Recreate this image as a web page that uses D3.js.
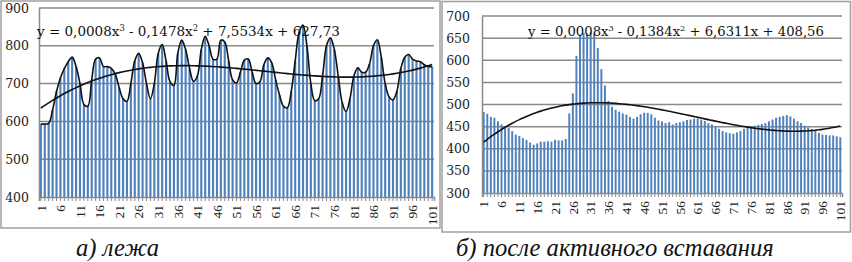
<!DOCTYPE html>
<html><head><meta charset="utf-8">
<script src="https://cdn.jsdelivr.net/npm/d3@7"></script>
<style>
body{margin:0;background:#fff;}
svg{display:block;}
</style></head>
<body>
<svg id="c" width="852" height="262"></svg>
<script>
// ---------- data ----------
const categories = d3.range(1, 102);
const tickLabels = ["1","6","11","16","21","26","31","36","41","46","51","56","61","66","71","76","81","86","91","96","101"];

const leftValues = [593,593,595,630,679,715,740,758,770,745,700,645,640,710,765,768,745,745,740,725,
  690,660,653,700,760,780,755,700,660,700,780,803,760,705,695,780,815,790,740,706,
  720,790,825,800,765,765,815,810,760,710,702,730,762,765,730,700,705,750,768,755,
  710,670,640,636,680,760,835,855,800,700,655,660,720,800,821,790,720,650,626,660,
  720,742,730,730,752,800,816,770,700,665,657,680,740,770,777,765,760,758,750,745,745];

const rightValues = [483,479,472,470,462,455,449,447,440,432,429,424,420,414,409,412,416,416,417,416,
  420,419,419,422,480,525,610,658,662,660,663,660,628,580,543,508,495,488,484,480,
  477,472,468,472,478,481,481,478,470,464,462,458,460,455,458,460,462,465,466,468,
  468,466,463,458,455,450,445,440,437,435,434,437,440,445,448,450,452,454,456,458,
  462,466,470,472,474,476,473,468,462,458,452,448,445,440,436,432,431,430,430,428,426];

const leftYTicks = [400,500,600,700,800,900];
const rightYTicks = [300,350,400,450,500,550,600,650,700];

// trendline coefficients (c0, c1, c2, c3) as drawn
const leftTrend = [627.73, 7.5534, -0.1478, 0.000842];
const rightTrend = [408.56, 6.6311, -0.1384, 0.000762];

const leftEq = ["y = 0,0008x","3"," - 0,1478x","2"," + 7,5534x + 627,73"];
const rightEq = ["y = 0,0008x","3"," - 0,1384x","2"," + 6,6311x + 408,56"];
const captions = ["а) лежа", "б) после активного вставания"];

// ---------- drawing ----------
const svg = d3.select("#c");
const GRID = "#8a8a8a", FRAME = "#a0a0a0", BAR = "#4F81BD";
const SERIF = "Liberation Serif";
const WIDE = "DejaVu Serif";

// frames
svg.append("rect").attr("x",1).attr("y",1).attr("width",439).attr("height",227)
  .attr("fill","none").attr("stroke",FRAME).attr("stroke-width",1.5);
svg.append("rect").attr("x",442).attr("y",1.5).attr("width",408.5).attr("height",230.5)
  .attr("fill","none").attr("stroke",FRAME).attr("stroke-width",1.5);

function panel(cfg){
  const g = svg.append("g");
  const x = d3.scaleBand().domain(categories).range(cfg.xr).paddingInner(0.45).paddingOuter(0.2);
  const y = d3.scaleLinear().domain(cfg.yd).range(cfg.yr);

  // gridlines
  g.append("g").selectAll("line").data(cfg.yTicks.slice(1)).join("line")
    .attr("x1",cfg.xr[0]).attr("x2",cfg.xr[1])
    .attr("y1",d=>y(d)).attr("y2",d=>y(d))
    .attr("stroke",GRID).attr("stroke-width",1.5);

  // bars
  g.append("g").selectAll("rect").data(cfg.values).join("rect")
    .attr("x",(d,i)=>x(categories[i]))
    .attr("width",x.bandwidth())
    .attr("y",d=>y(d))
    .attr("height",d=>y(cfg.yd[0])-y(d))
    .attr("fill",BAR);

  // y axis
  const ya = g.append("g").attr("transform",`translate(${cfg.xr[0]},0)`)
    .call(d3.axisLeft(y).tickValues(cfg.yTicks).tickSize(0).tickPadding(cfg.yPad));
  ya.select(".domain").attr("stroke",GRID).attr("stroke-width",1.5);
  ya.selectAll("text").attr("font-family",WIDE).attr("font-size",12.5).attr("fill","#222");

  // x axis
  const xa = g.append("g").attr("transform",`translate(0,${y(cfg.yd[0])})`)
    .call(d3.axisBottom(x).tickSize(4).tickFormat(d=>tickLabels.includes(String(d))?String(d):""));
  xa.select(".domain").attr("stroke",GRID).attr("stroke-width",1.5);
  xa.selectAll(".tick line").attr("stroke",GRID);
  xa.selectAll("text").attr("font-family",SERIF).attr("font-size",13.5).attr("fill","#222")
    .attr("transform","rotate(-90)").attr("text-anchor","end")
    .attr("x",-8).attr("y",0).attr("dy","0.35em");

  // smoothed line
  if(cfg.smooth){
    g.append("path").datum(cfg.values)
      .attr("d", d3.line().x((d,i)=>x(categories[i])+x.bandwidth()/2).y(d=>y(d)).curve(d3.curveCatmullRom.alpha(0.5)))
      .attr("fill","none").attr("stroke","#111").attr("stroke-width",1.6);
  }
  // polynomial trendline
  const c = cfg.trend;
  const poly = v => c[0] + c[1]*v + c[2]*v*v + c[3]*v*v*v;
  g.append("path").datum(categories)
    .attr("d", d3.line().x(d=>x(d)+x.bandwidth()/2).y(d=>y(poly(d))).curve(d3.curveMonotoneX))
    .attr("fill","none").attr("stroke","#111").attr("stroke-width",1.6);

  // equation
  const t = g.append("text").attr("x",cfg.eqPos[0]).attr("y",cfg.eqPos[1])
    .attr("font-family",WIDE).attr("font-size",cfg.eqSize).attr("fill","#111");
  cfg.eq.forEach((s,i)=>{
    const ts = t.append("tspan").text(s);
    if(i%2===1){ ts.attr("font-size",cfg.eqSize*0.62).attr("dy",-5); }
    else if(i>0){ ts.attr("dy",5); }
  });
  return g;
}

panel({xr:[39,434], yd:[400,900], yr:[197,8], yTicks:leftYTicks, values:leftValues,
  trend:leftTrend, smooth:true, eq:leftEq, eqPos:[37,36], eqSize:13.5, yPad:10});
panel({xr:[482,842], yd:[300,700], yr:[193,16], yTicks:rightYTicks, values:rightValues,
  trend:rightTrend, smooth:false, eq:rightEq, eqPos:[528,36], eqSize:13.2, yPad:12});

// captions
svg.append("text").attr("x",76).attr("y",256).text(captions[0])
  .attr("font-family",SERIF).attr("font-style","italic").attr("font-size",24.6).attr("fill","#111");
svg.append("text").attr("x",456).attr("y",256).text(captions[1])
  .attr("font-family",SERIF).attr("font-style","italic").attr("font-size",24.6).attr("fill","#111");
</script>
</body></html>
